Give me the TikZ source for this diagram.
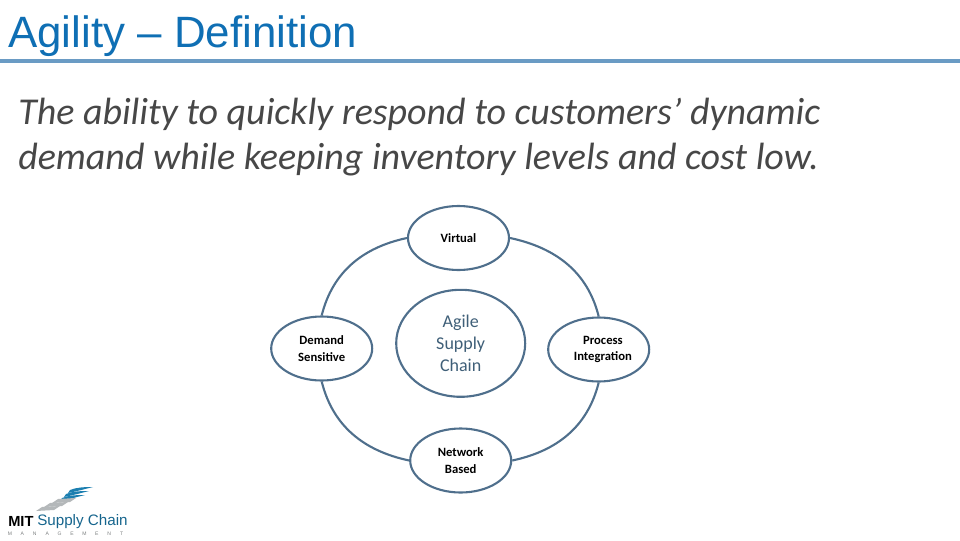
\documentclass[tikz,border=0pt]{standalone}
\usepackage{fontspec}
\usepackage{tikz}
\usepackage{xcolor}
\setmainfont{Carlito}
\newfontfamily\titlefont{Liberation Sans}
\usetikzlibrary{shapes.geometric, positioning}
\definecolor{MIT_Title}{HTML}{0F6FB4}
\definecolor{MIT_Rule}{HTML}{6A9BC4}
\definecolor{MIT_Ring}{HTML}{4F6F8C}
\definecolor{MIT_Core}{HTML}{3F5F78}
\definecolor{MIT_Swoosh}{HTML}{1C7FB0}
\definecolor{MIT_Gray}{HTML}{B4B8BA}
\tikzset{
    petal/.style={ellipse, draw=MIT_Ring, line width=1.5pt, minimum width=101\pxu, minimum height=64\pxu, inner sep=0pt, align=center, font=\fontsize{9}{12}\selectfont\bfseries, text=black},
    ring/.style={draw=MIT_Ring, line width=1.5pt},
    bodyline/.style={anchor=west, font=\fontsize{27}{30}\selectfont\itshape, text=black!72}
}
\newcommand{\pxu}{*0.025cm}
\begin{document}
\begin{tikzpicture}[x=0.025cm, y=-0.025cm]
    \useasboundingbox (0,0) rectangle (960,540);
    % heading
    \node[anchor=west, inner sep=0pt, text=MIT_Title, font=\titlefont\fontsize{31.2}{36}\selectfont] (heading) at (8,36) {Agility – Definition};
    \coordinate (ruleL) at (0,61);
    \coordinate (ruleR) at (960,61);
    \draw[MIT_Rule, line width=2.2pt] (ruleL) -- (ruleR);
    \node[bodyline, inner sep=0pt] (lineone) at (18,114) {The ability to quickly respond to customers' dynamic};
    \node[bodyline, inner sep=0pt] (linetwo) at (18,160) {demand while keeping inventory levels and cost low.};
    % diagram
    \node[petal] (virtual) at (458.5,238) {Virtual};
    \node[petal] (demand) at (321.7,348.5) {Demand\\Sensitive};
    \node[petal] (process) at (598.7,349.5) {\hspace*{6pt}Process\\\hspace*{6pt}Integration};
    \node[petal] (network) at (460.7,460.5) {Network\\Based};
    \node[ellipse, draw=MIT_Ring, line width=1.5pt, minimum width=129\pxu, minimum height=107\pxu, inner sep=0pt, align=center, text=MIT_Core, font=\fontsize{12.8}{15.4}\selectfont] (core) at (460.7,343.3) {Agile\\Supply\\Chain};
    \draw[ring] (virtual.west) to[out=192, in=76] (demand.north);
    \draw[ring] (virtual.east) to[out=-12, in=104] (process.north);
    \draw[ring] (demand.south) to[out=-76, in=168] (network.west);
    \draw[ring] (process.south) to[out=-104, in=12] (network.east);
    % logo
    \foreach \yy/\xx in {0/0, 4/-4, 8/-8} {
        \fill[MIT_Swoosh, shift={(\xx,\yy)}] (70,490) .. controls (78,487) and (85,487) .. (93,487) .. controls (85,489) and (78,491) .. (68,493) -- cycle;
    }
    \foreach \yy/\xx in {0/0, 4/-8, 8/-16} {
        \fill[MIT_Gray, shift={(\xx,\yy)}] (58,499) -- (76,498) -- (70,502) -- (52,503) -- cycle;
    }
    \node[anchor=west, inner sep=0pt, font=\titlefont\bfseries\fontsize{10.4}{12}\selectfont, text=black] (logomit) at (8,521.5) {MIT};
    \node[anchor=west, inner sep=0pt, font=\titlefont\fontsize{10.8}{12}\selectfont, text=MIT_Swoosh!80!black] (logochain) at (37,521.5) {Supply Chain};
    \foreach \ch [count=\ii from 0] in {M,A,N,A,G,E,M,E,N,T} {
        \node[inner sep=0pt, font=\titlefont\fontsize{3.6}{4}\selectfont, text=MIT_Gray!70!black] (logo\ii) at (10+\ii*12.4,533.5) {\ch};
    }
\end{tikzpicture}
\end{document}
